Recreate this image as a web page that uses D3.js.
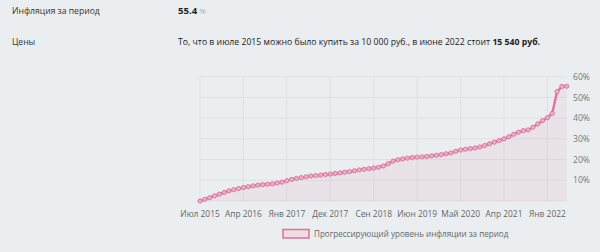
<!DOCTYPE html>
<html>
<head>
<meta charset="utf-8">
<script src="https://cdn.jsdelivr.net/npm/d3@7"></script>
<style>
  body { margin: 0; background: #ebeef0; font-family: "Open Sans", sans-serif; }
  svg { display: block; }
</style>
</head>
<body>
<svg width="600" height="252"></svg>
<script>
// накопленная инфляция, % (одна точка на деление оси)
var values = [0.0, 0.8, 1.6, 2.5, 3.3, 4.1, 4.9, 5.5, 6.0, 6.5,
    6.9, 7.3, 7.7, 7.9, 8.1, 8.3, 8.7, 9.1, 9.8, 10.4,
    10.9, 11.3, 11.7, 12.1, 12.3, 12.5, 12.8, 13.0, 13.3, 13.6,
    13.9, 14.2, 14.6, 15.0, 15.3, 15.6, 15.9, 16.3, 16.9, 18.0,
    19.2, 19.9, 20.3, 20.7, 21.0, 21.2, 21.3, 21.5, 21.8, 22.1,
    22.4, 22.8, 23.2, 24.0, 24.6, 25.0, 25.3, 25.6, 26.1, 26.8,
    27.6, 28.4, 29.2, 30.0, 31.0, 32.2, 33.2, 34.0, 34.3, 35.6,
    37.2, 38.8, 40.2, 42.3, 52.8, 55.3, 55.4]
var tickLabels = ["Июл 2015", "Апр 2016", "Янв 2017", "Дек 2017", "Сен 2018",
    "Июн 2019", "Май 2020", "Апр 2021", "Янв 2022"]
var tickStep = 9
var yTicks = [10, 20, 30, 40, 50, 60]

var svg = d3.select("svg")

var scX = d3.scaleLinear().domain([0, values.length - 1]).range([200, 566.7]),
    scY = d3.scaleLinear().domain([0, 60]).range([201, 76.7])

// шапка
svg.append("text").attr("x", 12).attr("y", 13.5).attr("font-size", 8.6)
    .attr("fill", "#333").text("Инфляция за период")
var t = svg.append("text").attr("x", 178).attr("y", 14).attr("font-size", 9.6)
t.append("tspan").attr("font-weight", "bold").attr("fill", "#222").text("55.4")
t.append("tspan").attr("fill", "#aaa").attr("font-size", 8).text(" %")

svg.append("text").attr("x", 12).attr("y", 45).attr("font-size", 8.6)
    .attr("fill", "#333").text("Цены")
var s = svg.append("text").attr("x", 178).attr("y", 45).attr("font-size", 8.7).attr("fill", "#222")
s.append("tspan").text("То, что в июле 2015 можно было купить за 10 000 руб., в июне 2022 стоит ")
s.append("tspan").attr("font-weight", "bold").text("15 540 руб.")

// сетка
var xt = d3.range(0, values.length, tickStep)
svg.selectAll("line.vx").data(xt).enter().append("line")
    .attr("x1", d => scX(d)).attr("x2", d => scX(d))
    .attr("y1", scY(60)).attr("y2", scY(0))
    .attr("stroke", "#dde1e4").attr("stroke-width", 1)
svg.selectAll("line.hy").data([0].concat(yTicks)).enter().append("line")
    .attr("x1", scX(0)).attr("x2", scX(values.length - 1))
    .attr("y1", d => scY(d)).attr("y2", d => scY(d))
    .attr("stroke", "#dde1e4").attr("stroke-width", 1)

// подписи осей
svg.selectAll("text.xl").data(xt).enter().append("text")
    .attr("x", d => scX(d)).attr("y", 216.5).attr("text-anchor", "middle")
    .attr("font-size", 8.4).attr("fill", "#666").text((d, i) => tickLabels[i])
svg.selectAll("text.yl").data(yTicks).enter().append("text")
    .attr("x", 573).attr("y", d => scY(d) + 3.2)
    .attr("font-size", 8.6).attr("fill", "#777").text(d => d + "%")

// область и линия
var area = d3.area().x((d, i) => scX(i)).y0(scY(0)).y1(d => scY(d))
svg.append("path").datum(values).attr("d", area).attr("fill", "rgba(222,110,150,0.09)")

var line = d3.line().x((d, i) => scX(i)).y(d => scY(d))
svg.append("path").datum(values).attr("d", line)
    .attr("fill", "none").attr("stroke", "#de769d").attr("stroke-width", 2.4)

svg.selectAll("circle").data(values).enter().append("circle")
    .attr("cx", (d, i) => scX(i)).attr("cy", d => scY(d)).attr("r", 2.1)
    .attr("fill", "#eab2c6").attr("stroke", "#de769d").attr("stroke-width", 1)

// легенда
svg.append("rect").attr("x", 283).attr("y", 229.5).attr("width", 26).attr("height", 8.5)
    .attr("fill", "#f0dbe3").attr("stroke", "#d9739a").attr("stroke-width", 1.5)
svg.append("text").attr("x", 314).attr("y", 237).attr("font-size", 8.1)
    .attr("fill", "#666").text("Прогрессирующий уровень инфляции за период")
</script>
</body>
</html>
